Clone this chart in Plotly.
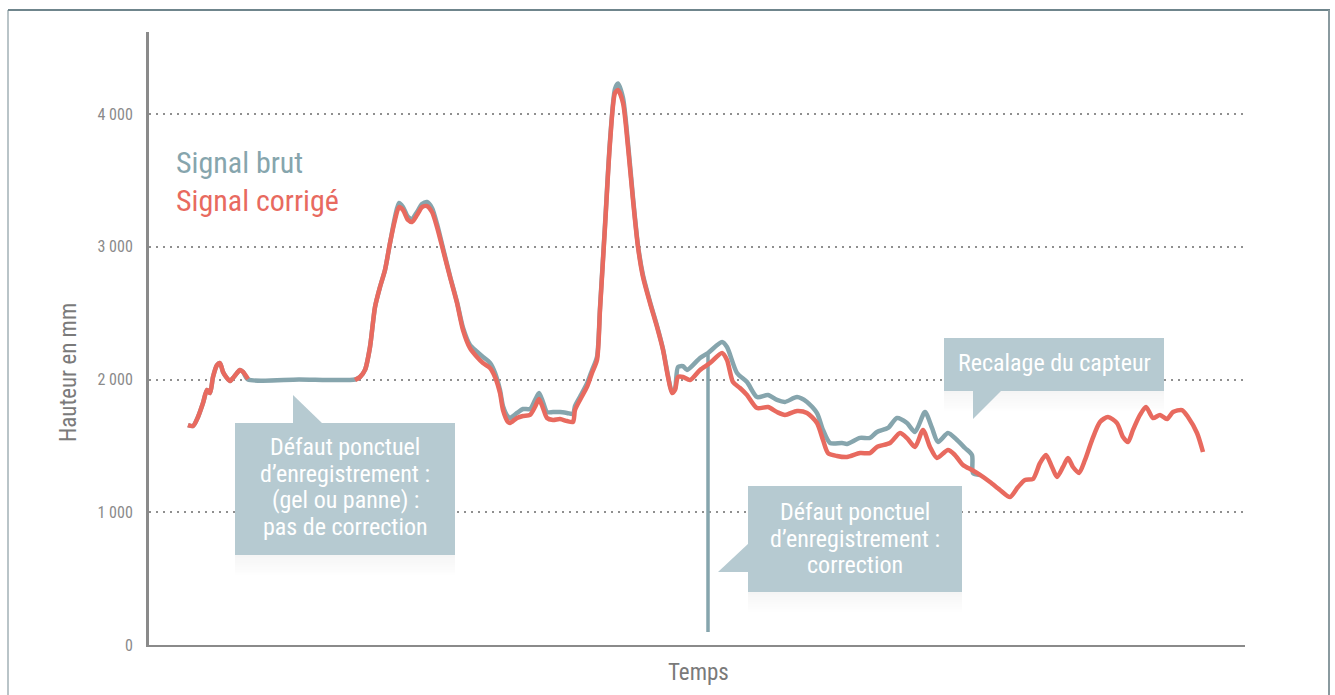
import plotly.graph_objects as go

# ---------------- data ----------------
# time axis (arbitrary units), heights in mm
t_corr = [39, 44, 49, 54, 58, 61, 64, 68, 71, 74, 78, 81, 84, 88, 91, 94, 99,
          None,
          206, 211, 216, 221, 226, 231, 236, 241, 246, 250, 254, 259, 263, 268, 273, 278, 283, 288,
          294, 301, 308, 314, 321, 328, 334, 341, 346, 351, 354, 359, 361, 368, 374, 381, 386, 390,
          394, 398, 404, 411, 418, 424, 426, 431, 438, 443, 448, 451, 456, 461, 466, 469, 474, 479,
          484, 489, 494, 501, 508, 514, 519, 523, 526, 529, 534, 541, 551, 561, 573, 578, 584, 591,
          598, 608, 619, 628, 636, 648, 658, 668, 674, 679, 688, 698, 711, 721, 728, 741, 751, 758,
          766, 774, 781, 788, 799, 806, 814, 823, 831, 841, 851, 861, 869, 876, 884, 891, 897, 903,
          908, 914, 919, 924, 930, 936, 943, 951, 959, 968, 974, 979, 984, 991, 997, 1004, 1011,
          1018, 1024, 1033, 1039, 1048, 1054]
v_corr = [1657, 1650, 1718, 1823, 1921, 1898, 2019, 2109, 2124, 2057, 2011, 1989, 2011, 2049, 2072, 2057, 2004,
          None,
          1996, 2019, 2072, 2245, 2546, 2697, 2825, 3028, 3202, 3299, 3277, 3202, 3187, 3239, 3299, 3307, 3262, 3149,
          2976, 2772, 2576, 2373, 2237, 2170, 2124, 2087, 2019, 1898, 1770, 1680, 1672, 1710, 1725, 1733, 1793, 1853,
          1785, 1710, 1695, 1702, 1687, 1680, 1770, 1846, 1944, 2049, 2147, 2524, 3149, 3782, 4158, 4181, 4083, 3751,
          3352, 2998, 2772, 2576, 2396, 2222, 2019, 1898, 1921, 2019, 2019, 1996, 2072, 2124, 2200, 2147, 1981, 1936,
          1883, 1785, 1793, 1755, 1733, 1763, 1748, 1672, 1544, 1446, 1424, 1416, 1446, 1446, 1492, 1522, 1597, 1559,
          1492, 1620, 1492, 1409, 1469, 1431, 1356, 1318, 1281, 1228, 1168, 1115, 1190, 1243, 1251, 1371, 1431, 1341,
          1266, 1341, 1409, 1341, 1296, 1394, 1544, 1680, 1718, 1672, 1567, 1529, 1620, 1733, 1793, 1710, 1733,
          1702, 1755, 1770, 1718, 1597, 1454]

t_brut = [39, 44, 49, 54, 58, 61, 64, 68, 71, 74, 78, 81, 84, 88, 91, 94, 99,
          150, 206, 211, 216, 221, 226, 231, 236, 241, 246, 250, 254, 259, 263, 268, 273, 278, 283, 288,
          294, 301, 308, 314, 321, 328, 334, 341, 346, 351, 354, 359, 361, 368, 374, 381, 386, 390,
          394, 398, 404, 411, 418, 424, 426, 431, 438, 443, 448, 451, 456, 461, 466, 469, 474, 479,
          484, 489, 494, 501, 508, 514, 519, 523, 526, 529, 534, 538, 551, 559, 573, 578,
          588, 598, 608, 619, 628, 636, 648, 658, 668, 674, 681, 693, 698, 711, 721, 728, 739, 748,
          758, 766, 776, 783, 789, 799, 808, 816, 823, 824, 831]
v_brut = [1657, 1650, 1718, 1823, 1921, 1898, 2019, 2109, 2124, 2057, 2011, 1989, 2011, 2049, 2072, 2057, 2000,
          2000, 2000, 2019, 2072, 2245, 2546, 2697, 2825, 3028, 3225, 3330, 3300, 3225, 3210, 3262, 3322, 3337, 3292, 3172,
          2990, 2780, 2585, 2390, 2260, 2210, 2170, 2125, 2050, 1920, 1800, 1720, 1710, 1748, 1778, 1778, 1845, 1898,
          1830, 1755, 1755, 1755, 1748, 1740, 1800, 1870, 1970, 2070, 2170, 2540, 3165, 3800, 4190, 4230, 4120, 3780,
          3370, 3010, 2785, 2585, 2405, 2230, 2030, 1905, 1930, 2094, 2100, 2072, 2162, 2200, 2282, 2245,
          2049, 1981, 1868, 1883, 1846, 1831, 1868, 1831, 1747, 1620, 1522, 1522, 1514, 1560, 1560, 1605, 1635, 1710,
          1672, 1605, 1755, 1635, 1530, 1597, 1544, 1484, 1431, 1296, 1281]

# raw-signal recording fault (sudden drop at one instant)
t_fault = [559, 559]
v_fault = [2200, 98]

y_ticks = [0, 1000, 2000, 3000, 4000]
y_tick_labels = ["0", "1 000", "2 000", "3 000", "4 000"]

series_names = ["Signal brut", "Signal corrigé"]
y_title = "Hauteur en mm"
x_title = "Temps"
callout_lines = [
    ["Défaut ponctuel", "d’enregistrement :", "(gel ou panne) :", "pas de correction"],
    ["Défaut ponctuel", "d’enregistrement :", "correction"],
    ["Recalage du capteur"],
]

# ---------------- style ----------------
W, H = 1335, 695
L, R, T, B = 149, 1245, 32, 645
FONT = "Liberation Sans Narrow, Roboto Condensed, DejaVu Sans Condensed, Roboto, sans-serif"
C_BRUT = "#86a5ad"
C_CORR = "#e86a5f"
C_BOX = "#b6cad1"
C_AXIS = "#8a8a8a"


def px(x):
    return (x - L) / (R - L)


def py(y):
    return (B - y) / (B - T)


fig = go.Figure()
fig.add_trace(go.Scatter(x=t_brut, y=v_brut, mode="lines", name=series_names[0],
                         line=dict(color=C_BRUT, width=4.5, shape="spline", smoothing=0.7),
                         connectgaps=False, hoverinfo="skip"))
fig.add_trace(go.Scatter(x=t_fault, y=v_fault, mode="lines", name=series_names[0],
                         line=dict(color=C_BRUT, width=3.5), hoverinfo="skip"))
fig.add_trace(go.Scatter(x=t_corr, y=v_corr, mode="lines", name=series_names[1],
                         line=dict(color=C_CORR, width=4.5, shape="spline", smoothing=0.7),
                         connectgaps=False, hoverinfo="skip"))

shapes = []
annotations = []

# frame lines
shapes.append(dict(type="line", xref="paper", yref="paper", x0=px(8), x1=px(8), y0=py(10), y1=py(700),
                   line=dict(color="#b9c4c8", width=2), layer="below"))
shapes.append(dict(type="line", xref="paper", yref="paper", x0=px(8), x1=px(1330), y0=py(10), y1=py(10),
                   line=dict(color="#6f858c", width=2), layer="below"))
shapes.append(dict(type="line", xref="paper", yref="paper", x0=px(1329), x1=px(1329), y0=py(10), y1=py(700),
                   line=dict(color="#8a9a9f", width=2), layer="below"))


def callout(box, tri, lines, tx, ty0, dy=26.5):
    x0, y0, x1, y1 = box
    n = 8
    for i in range(n):
        a = 0.07 * (1 - i / n)
        shapes.append(dict(type="rect", xref="paper", yref="paper",
                           x0=px(x0), x1=px(x1), y0=py(y1 + i * 2.5), y1=py(y1 + (i + 1) * 2.5),
                           fillcolor=f"rgba(120,120,120,{a:.3f})", line=dict(width=0), layer="above"))
    shapes.append(dict(type="rect", xref="paper", yref="paper",
                       x0=px(x0), x1=px(x1), y0=py(y1), y1=py(y0),
                       fillcolor=C_BOX, line=dict(width=0), layer="above"))
    path = "M " + " L ".join(f"{px(a)},{py(b)}" for a, b in tri) + " Z"
    shapes.append(dict(type="path", xref="paper", yref="paper", path=path,
                       fillcolor=C_BOX, line=dict(width=0), layer="above"))
    for k, s in enumerate(lines):
        annotations.append(dict(xref="paper", yref="paper", x=px(tx), y=py(ty0 + k * dy), text=s,
                                showarrow=False, align="center", xanchor="center", yanchor="middle",
                                font=dict(family=FONT, size=24, color="white")))


callout((235, 423, 455, 555), [(293, 395), (293, 424), (323, 424)], callout_lines[0], 345, 447)
callout((748, 486, 962, 592), [(718, 572), (749, 543), (749, 572)], callout_lines[1], 855, 512)
callout((944, 338, 1164, 391), [(973, 390), (973, 419), (1002, 390)], callout_lines[2], 1054, 363)

# legend as coloured text
annotations.append(dict(xref="paper", yref="paper", x=px(174), y=py(162), text=series_names[0],
                        showarrow=False, xanchor="left", yanchor="middle",
                        font=dict(family=FONT, size=30, color=C_BRUT)))
annotations.append(dict(xref="paper", yref="paper", x=px(174), y=py(200), text=series_names[1],
                        showarrow=False, xanchor="left", yanchor="middle",
                        font=dict(family=FONT, size=30, color=C_CORR)))
# axis titles
annotations.append(dict(xref="paper", yref="paper", x=px(68), y=py(372), text=y_title, textangle=-90,
                        showarrow=False, xanchor="center", yanchor="middle",
                        font=dict(family=FONT, size=23, color="#7a7a7a")))
annotations.append(dict(xref="paper", yref="paper", x=px(698), y=py(672), text=x_title,
                        showarrow=False, xanchor="center", yanchor="middle",
                        font=dict(family=FONT, size=23, color="#7a7a7a")))

fig.update_layout(
    width=W, height=H,
    margin=dict(l=L, r=W - R, t=T, b=H - B, autoexpand=False),
    paper_bgcolor="white", plot_bgcolor="white",
    showlegend=False,
    shapes=shapes, annotations=annotations,
    font=dict(family=FONT),
    xaxis=dict(range=[0, 1096], showticklabels=False, ticks="", showgrid=False, zeroline=False,
               showline=True, linecolor=C_AXIS, linewidth=2, fixedrange=True),
    yaxis=dict(range=[0, 4618], tickvals=y_ticks, ticktext=y_tick_labels, ticks="",
               ticklabelstandoff=10, tickfont=dict(family=FONT, size=16, color="#8a8a8a"),
               showgrid=True, gridcolor="#8f8f8f", gridwidth=2, griddash="2px,5px",
               zeroline=False, showline=True, linecolor=C_AXIS, linewidth=3, fixedrange=True),
)

fig.write_html("out.html", config={"displayModeBar": False},
               post_script="document.body.style.margin='0';")
